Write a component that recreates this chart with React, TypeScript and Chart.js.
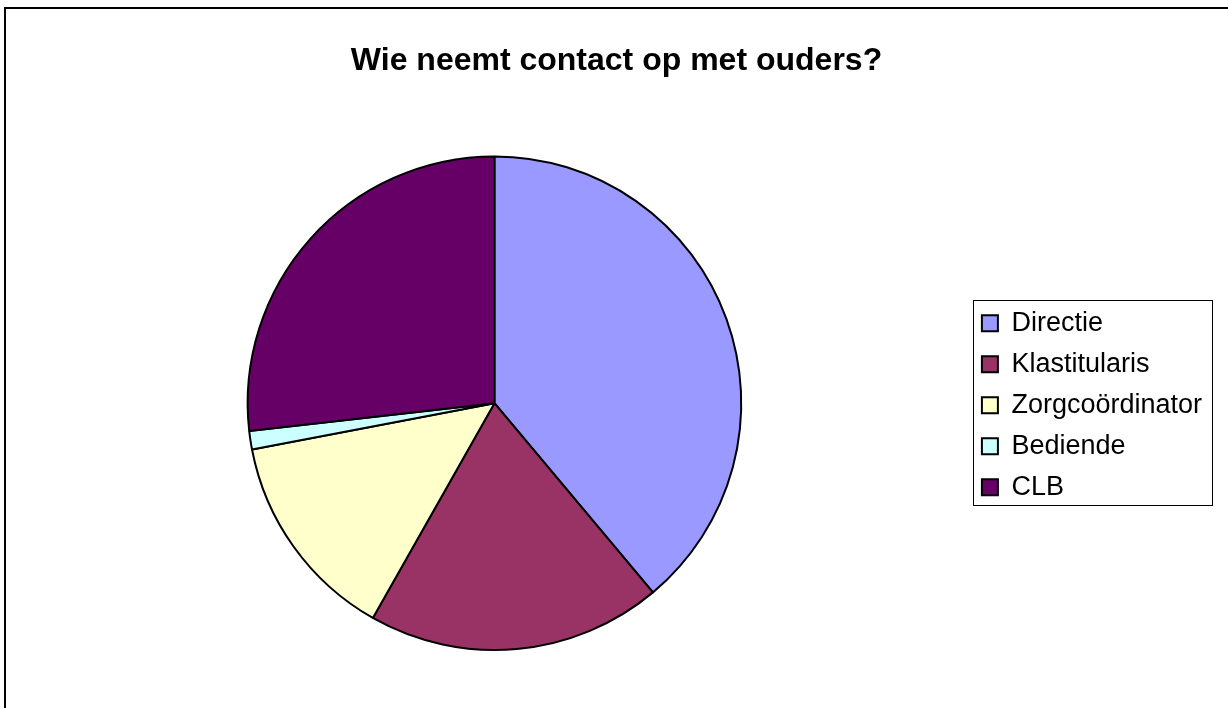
import React, { useEffect, useRef } from "react";
import { Chart, registerables } from "chart.js";

Chart.register(...registerables);

const titleText = "Wie neemt contact op met ouders?";
const categories = ["Directie", "Klastitularis", "Zorgcoördinator", "Bediende", "CLB"];
const values = [38.9, 19.3, 13.8, 1.2, 26.8];
const sliceColors = ["#9999FF", "#993366", "#FFFFCC", "#CCFFFF", "#660066"];

const legendBoxPlugin = {
  id: "legendBox",
  afterDraw(chart: any) {
    const lg = chart.legend;
    if (!lg || !lg.legendHitBoxes || !lg.legendHitBoxes.length) return;
    let l = Infinity, t = Infinity, r = -Infinity, b = -Infinity;
    for (const h of lg.legendHitBoxes) {
      l = Math.min(l, h.left);
      t = Math.min(t, h.top);
      r = Math.max(r, h.left + h.width);
      b = Math.max(b, h.top + h.height);
    }
    const ctx = chart.ctx;
    ctx.save();
    ctx.strokeStyle = "#000";
    ctx.lineWidth = 1;
    ctx.strokeRect(Math.round(l - 9) + 0.5, Math.round(t - 10) + 0.5, Math.round(r - l + 19), Math.round(b - t + 14));
    ctx.restore();
  },
};

export default function App() {
  const canvasRef = useRef<HTMLCanvasElement | null>(null);

  useEffect(() => {
    if (!canvasRef.current) return;
    const chart = new Chart(canvasRef.current, {
      type: "pie",
      data: {
        labels: categories,
        datasets: [
          {
            data: values,
            backgroundColor: sliceColors,
            borderColor: "#000000",
            borderWidth: 2,
          },
        ],
      },
      options: {
        animation: false,
        responsive: false,
        maintainAspectRatio: false,
        layout: { padding: { left: 21, right: 16, top: 0, bottom: 57 } },
        plugins: {
          title: {
            display: true,
            text: titleText,
            color: "#000",
            font: { family: "'Liberation Sans', Arial, sans-serif", size: 32, weight: "bold", lineHeight: 1.2 },
            padding: { top: 42, bottom: 75 },
          },
          legend: {
            display: true,
            position: "right",
            fullSize: false,
            align: "center",
            title: {
              display: true,
              text: "",
              font: { size: 4, lineHeight: 1 },
              padding: 0,
            },
            labels: {
              color: "#000",
              font: { family: "'Liberation Sans', Arial, sans-serif", size: 27 },
              boxWidth: 16,
              boxHeight: 16,
              padding: 14,
            },
          },
          tooltip: { enabled: false },
        },
      },
      plugins: [legendBoxPlugin],
    });
    return () => chart.destroy();
  }, []);

  return (
    <div style={{ position: "fixed", left: 0, top: 0, width: 1228, height: 708, background: "#fff", overflow: "hidden" }}>
      <div
        style={{
          position: "absolute",
          left: 4,
          top: 7,
          width: 1300,
          height: 800,
          borderLeft: "2px solid #000",
          borderTop: "2px solid #000",
          boxSizing: "border-box",
        }}
      />
      <canvas ref={canvasRef} width={1228} height={708} style={{ position: "absolute", left: 0, top: 0 }} />
    </div>
  );
}
